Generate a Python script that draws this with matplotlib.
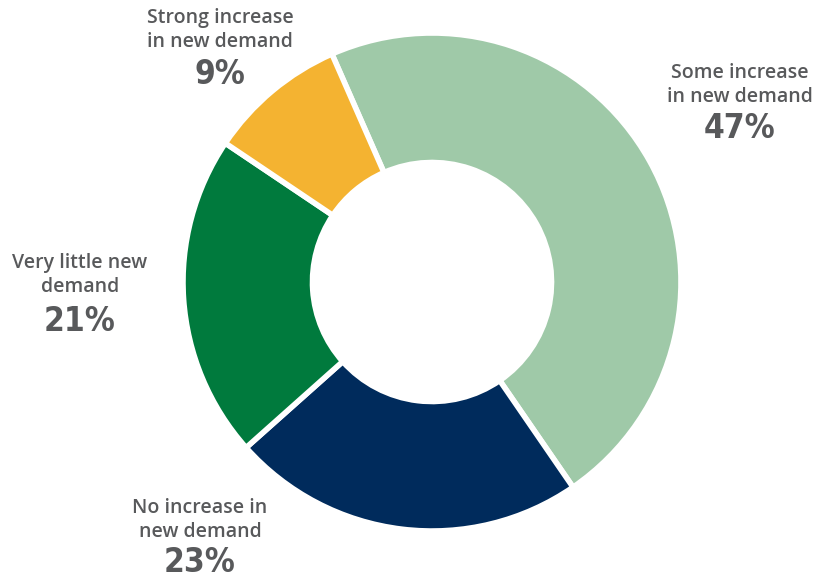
import matplotlib.pyplot as plt

# data, clockwise from the top
categories = ["Some increase\nin new demand", "No increase in\nnew demand",
              "Very little new\ndemand", "Strong increase\nin new demand"]
shares = [47, 23, 21, 9]
colors = ["#9fc9a8", "#002b5c", "#007a3d", "#f4b331"]

W, H = 817, 580
cx, cy, R = 432, 282, 249

fig = plt.figure(figsize=(W / 100, H / 100), dpi=100)
ax = fig.add_axes([0, 0, 1, 1])
ax.pie(shares, colors=colors, startangle=113.7, counterclock=False, radius=1,
       wedgeprops=dict(width=0.52, edgecolor="white", linewidth=4))
ax.set_xlim(-cx / R, (W - cx) / R)
ax.set_ylim(-(H - cy) / R, cy / R)
ax.set_aspect("equal")
ax.axis("off")

# label anchor points (pixel centres: x, text block y, percent y)
label_pos = [(740, 85, 128), (200, 520, 563), (80, 275, 321), (220, 30, 74)]
grey = "#58595b"
for cat, val, (x, yt, yp) in zip(categories, shares, label_pos):
    fig.text(x / W, 1 - yt / H, cat, ha="center", va="center", fontsize=14,
             family="Open Sans", fontweight="semibold", color=grey, linespacing=1.28)
    fig.text(x / W, 1 - yp / H, f"{val}%", ha="center", va="center", fontsize=24,
             family="DejaVu Sans", fontstretch="condensed", fontweight="bold",
             color=grey)

fig.savefig("out.png", dpi=100)
